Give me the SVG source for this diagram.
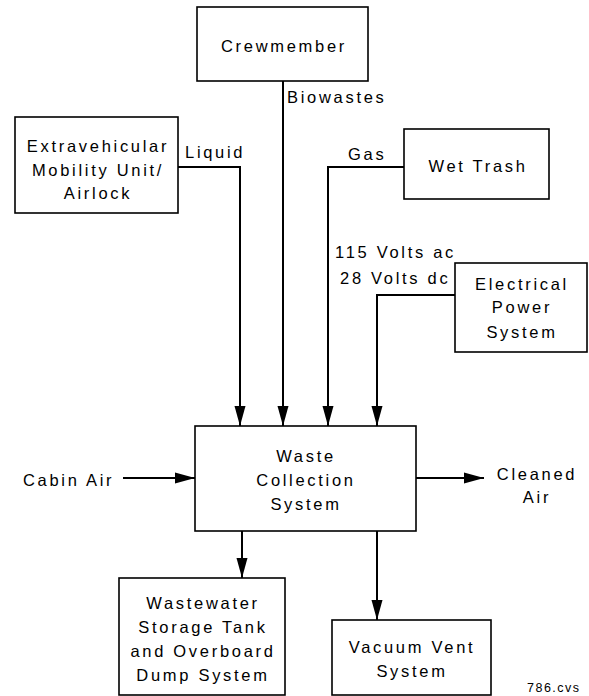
<svg xmlns="http://www.w3.org/2000/svg" width="589" height="696" viewBox="0 0 589 696">
<style>
.box{fill:#fff;stroke:#000;stroke-width:1.6}
.t{font-family:"Liberation Sans",Arial,sans-serif;font-size:16.5px;letter-spacing:2.7px;fill:#000}
.m{text-anchor:middle}
.ln{fill:none;stroke:#000;stroke-width:2}
</style>
<defs>
<marker id="ah" markerUnits="userSpaceOnUse" markerWidth="21" markerHeight="12" refX="20" refY="6" orient="auto">
<path d="M0,0.5 L20,6 L0,11.5 z" fill="#000"/>
</marker>
</defs>
<rect width="589" height="696" fill="#fff"/>
<g id="connectors">
<path class="ln" d="M283,81 V426" marker-end="url(#ah)" stroke-width="1.6"/>
<path class="ln" d="M178,167 H240 V426" marker-end="url(#ah)"/>
<path class="ln" d="M404,167 H328 V426" marker-end="url(#ah)"/>
<path class="ln" d="M455,295 H377 V426" marker-end="url(#ah)"/>
<path class="ln" d="M123,478 H195" marker-end="url(#ah)"/>
<path class="ln" d="M416,478 H484" marker-end="url(#ah)"/>
<path class="ln" d="M242,531 V578" marker-end="url(#ah)"/>
<path class="ln" d="M377,531 V620" marker-end="url(#ah)"/>
<text class="t" x="287" y="103">Biowastes</text>
<text class="t" x="185" y="158">Liquid</text>
<text class="t" x="348" y="160">Gas</text>
<text class="t" x="335" y="258">115 Volts ac</text>
<text class="t" x="340" y="284">28 Volts dc</text>
<text class="t" x="23" y="486">Cabin Air</text>
<text class="t m" x="537" y="480">Cleaned</text>
<text class="t m" x="537" y="503">Air</text>
</g>
<g id="crewmember">
<rect class="box" x="197" y="7" width="171" height="74"/>
<text class="t m" x="284" y="52">Crewmember</text>
</g>
<g id="emu">
<rect class="box" x="15" y="117" width="163" height="96"/>
<text class="t m" x="98" y="152">Extravehicular</text>
<text class="t m" x="98" y="176">Mobility Unit/</text>
<text class="t m" x="98" y="199">Airlock</text>
</g>
<g id="wettrash">
<rect class="box" x="404" y="129" width="145" height="70"/>
<text class="t m" x="478" y="172">Wet Trash</text>
</g>
<g id="eps">
<rect class="box" x="455" y="263" width="132" height="89"/>
<text class="t m" x="522" y="290">Electrical</text>
<text class="t m" x="522" y="313">Power</text>
<text class="t m" x="522" y="338">System</text>
</g>
<g id="wcs">
<rect class="box" x="195" y="426" width="221" height="105"/>
<text class="t m" x="306" y="462">Waste</text>
<text class="t m" x="306" y="486">Collection</text>
<text class="t m" x="306" y="510">System</text>
</g>
<g id="wastewater">
<rect class="box" x="119" y="578" width="166" height="117"/>
<text class="t m" x="203" y="609">Wastewater</text>
<text class="t m" x="203" y="633">Storage Tank</text>
<text class="t m" x="203" y="657">and Overboard</text>
<text class="t m" x="203" y="681">Dump System</text>
</g>
<g id="vacuum">
<rect class="box" x="332" y="620" width="159" height="75"/>
<text class="t m" x="412" y="653">Vacuum Vent</text>
<text class="t m" x="412" y="677">System</text>
</g>
<text class="t" x="527" y="692" style="font-size:12.5px;letter-spacing:1.5px">786.cvs</text>
</svg>
